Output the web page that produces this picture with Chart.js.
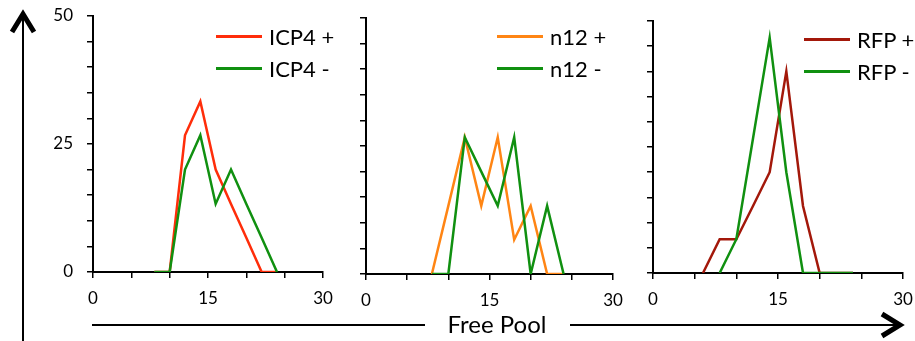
<!DOCTYPE html>
<html lang="en">
<head>
  <meta charset="UTF-8" />
  <title>Free Pool</title>
  <script src="https://cdn.jsdelivr.net/npm/chart.js"></script>
  <style>
    body { margin: 0; background: #fff; }
    #wrap { position: relative; width: 915px; height: 341px; overflow: hidden; font-family: Lato, sans-serif; }
    canvas { position: absolute; top: 0; }
    svg { position: absolute; left: 0; top: 0; pointer-events: none; }
    .legend { position: absolute; font-size: 22px; color: #000; }
    .legend .item { display: flex; align-items: center; height: 32px; }
    .legend .swatch { width: 46px; height: 3px; margin-right: 7px; }
    #title { position: absolute; left: 397px; top: 312px; width: 200px; text-align: center; font-size: 24px; line-height: 24px; }
  </style>
</head>
<body>
  <div id="wrap">
    <canvas id="c1" width="345" height="341" style="left:0px"></canvas>
    <canvas id="c2" width="300" height="341" style="left:330px"></canvas>
    <canvas id="c3" width="300" height="341" style="left:615px"></canvas>
    <div class="legend" id="l1" style="left:216px; top:20px"></div>
    <div class="legend" id="l2" style="left:497px; top:20px"></div>
    <div class="legend" id="l3" style="left:804px; top:23px"></div>
    <svg width="915" height="341">
      <g stroke="#000" fill="none">
        <!-- axe vertical -->
        <line x1="23" y1="15" x2="23" y2="341" stroke-width="2" />
        <polyline points="12,32 23,14 34,32" stroke-width="5" stroke-linejoin="miter" />
        <!-- axe horizontal -->
        <line x1="92" y1="325" x2="425" y2="325" stroke-width="2" />
        <line x1="570" y1="325" x2="898" y2="325" stroke-width="2" />
        <polyline points="882,314 900,325 882,336" stroke-width="5" stroke-linejoin="miter" />
      </g>
    </svg>
    <div id="title">Free Pool</div>
  </div>
  <script>
    // donnees (% par classe)
    const icpX = [8, 10, 12, 14, 16, 18, 20, 22, 24];
    const icpPlus = [0, 0, 26.7, 33.3, 20, 13.3, 6.7, 0, 0];
    const icpMinus = [0, 0, 20, 26.7, 13.3, 20, 13.3, 6.7, 0];

    const n12X = [8, 10, 12, 14, 16, 18, 20, 22, 24];
    const n12Plus = [0, 13.3, 26.7, 13.3, 26.7, 6.7, 13.3, 0, 0];
    const n12Minus = [0, 0, 26.7, 20, 13.3, 26.7, 0, 13.3, 0];

    const rfpX = [6, 8, 10, 12, 14, 16, 18, 20, 22, 24];
    const rfpPlus = [0, 6.7, 6.7, 13.3, 20, 40, 13.3, 0, 0, 0];
    const rfpMinus = [null, 0, 6.7, 26.7, 46.7, 20, 0, 0, 0, 0];

    const xTickLabels = [0, 15, 30];
    const yTickLabels = [0, 25, 50];

    Chart.defaults.font.family = 'Lato, sans-serif';
    Chart.defaults.font.size = 17;
    Chart.defaults.color = '#000';

    function makePanel(id, legendId, xs, plus, minus, names, colors, box) {
      const pts = arr => xs.map((x, i) => ({ x: x, y: arr[i] }));
      const datasets = [
        { label: names[0], data: pts(plus), borderColor: colors[0], order: 1 },
        { label: names[1], data: pts(minus), borderColor: colors[1], order: 0 }
      ];
      datasets.forEach(d => {
        d.borderWidth = 2.5;
        d.pointRadius = 0;
        d.tension = 0;
        d.fill = false;
      });

      new Chart(document.getElementById(id), {
        type: 'line',
        data: { datasets: datasets },
        options: {
          responsive: false,
          animation: false,
          devicePixelRatio: 1,
          layout: { padding: { top: box.top, right: box.right, bottom: box.bottom, left: 0 } },
          plugins: { legend: { display: false }, tooltip: { enabled: false } },
          scales: {
            x: {
              type: 'linear', min: 0, max: 30,
              afterFit: s => { s.height = 40; s.paddingLeft = 0; s.paddingRight = 0; },
              border: { color: '#000', width: 2 },
              grid: { drawOnChartArea: false, color: '#000', lineWidth: 1.5, tickLength: 6 },
              ticks: {
                stepSize: 5, padding: 10, maxRotation: 0, autoSkip: false,
                callback: v => xTickLabels.includes(v) ? String(v) : ''
              }
            },
            y: {
              min: 0, max: 50,
              afterFit: s => { s.width = box.yw; s.paddingTop = 0; s.paddingBottom = 0; },
              border: { color: '#000', width: 2 },
              grid: { drawOnChartArea: false, color: '#000', lineWidth: 1.5, tickLength: 6 },
              ticks: {
                stepSize: 5, padding: 14, autoSkip: false,
                callback: v => (box.yLabels && yTickLabels.includes(v)) ? String(v) : ''
              }
            }
          }
        }
      });

      // legende a l'interieur du graphe
      const lg = document.getElementById(legendId);
      names.forEach((n, i) => {
        const it = document.createElement('div');
        it.className = 'item';
        it.innerHTML = '<span class="swatch" style="background:' + colors[i] + '"></span><span>' + n + '</span>';
        lg.appendChild(it);
      });
    }

    makePanel('c1', 'l1', icpX, icpPlus, icpMinus, ['ICP4 +', 'ICP4 -'], ['#ff2d0a', '#109010'],
      { top: 16, right: 22, bottom: 29, yw: 93, yLabels: true });
    makePanel('c2', 'l2', n12X, n12Plus, n12Minus, ['n12 +', 'n12 -'], ['#ff8514', '#109010'],
      { top: 18, right: 17, bottom: 27, yw: 36, yLabels: false });
    makePanel('c3', 'l3', rfpX, rfpPlus, rfpMinus, ['RFP +', 'RFP -'], ['#a3180a', '#109010'],
      { top: 21, right: 12, bottom: 28, yw: 38, yLabels: false });
  </script>
</body>
</html>
